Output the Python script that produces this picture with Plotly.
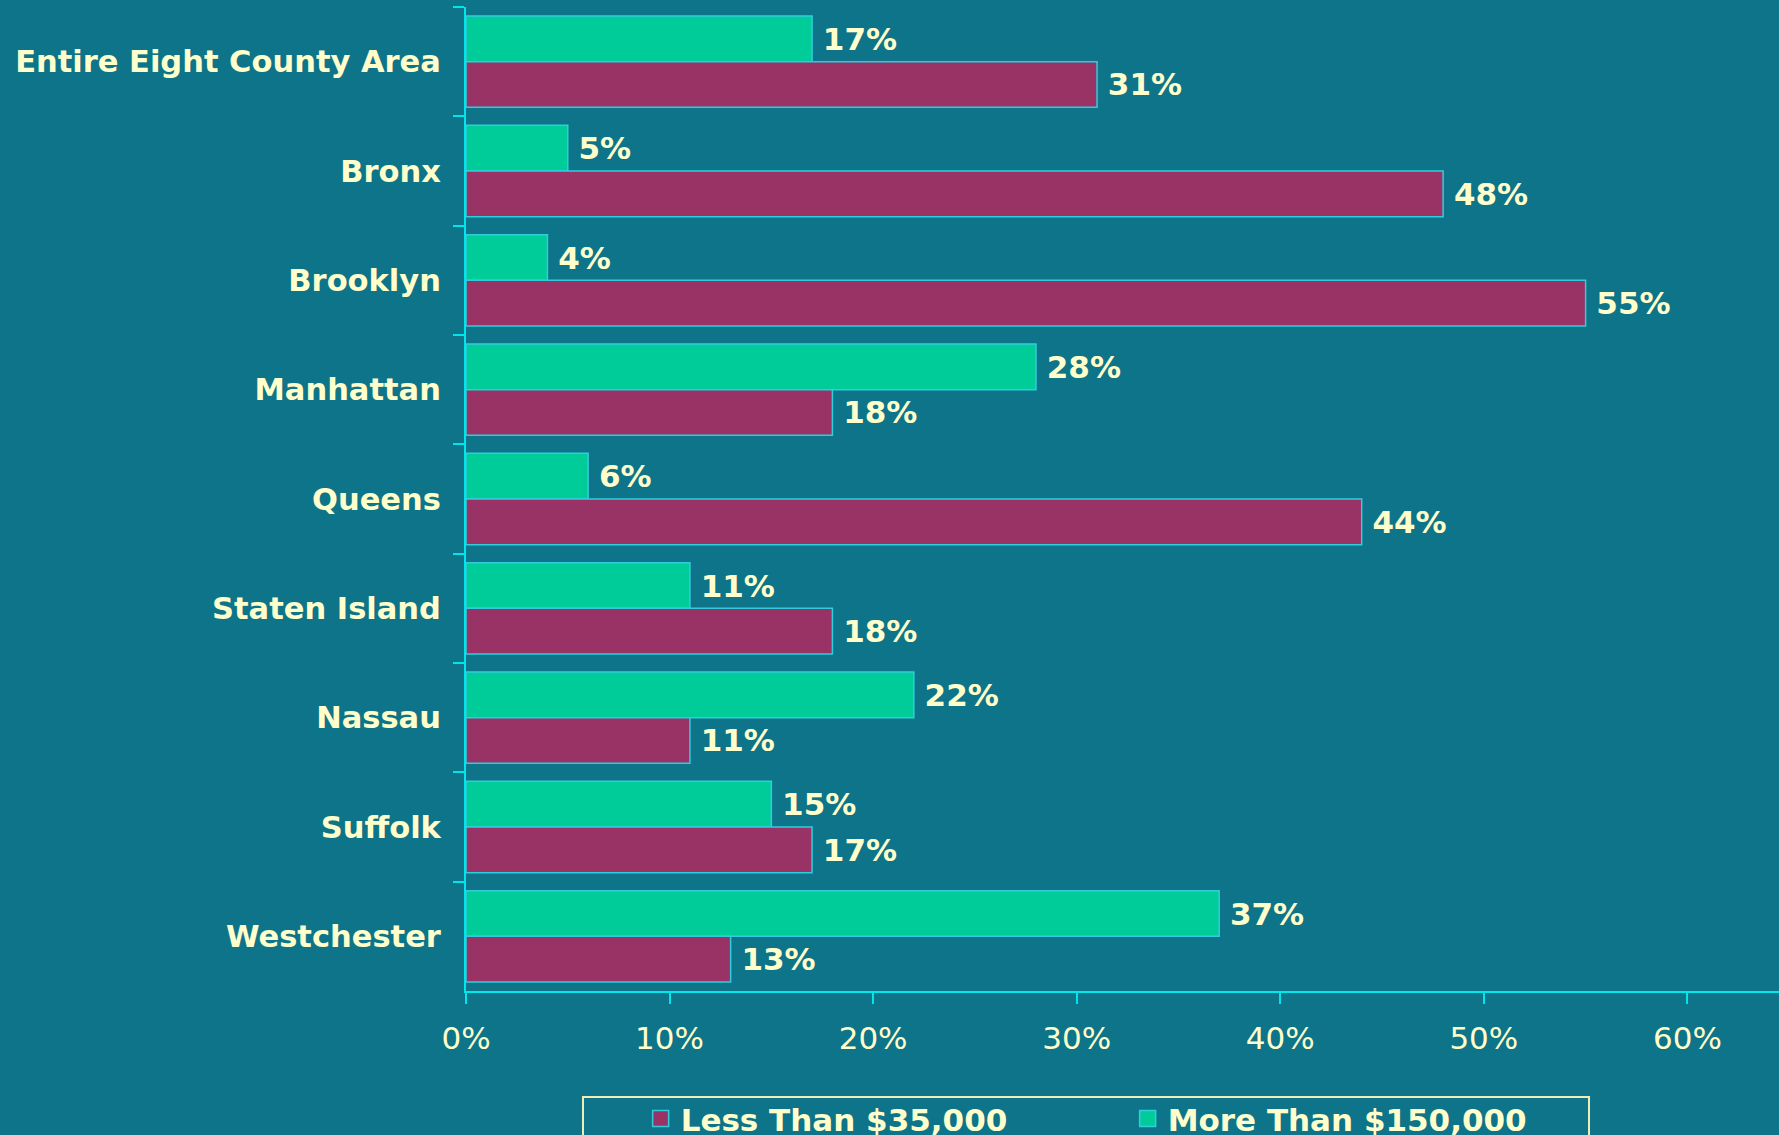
import plotly.graph_objects as go

categories = ["Entire Eight County Area", "Bronx", "Brooklyn", "Manhattan", "Queens",
              "Staten Island", "Nassau", "Suffolk", "Westchester"]
more_150k = [17, 5, 4, 28, 6, 11, 22, 15, 37]
less_35k = [31, 48, 55, 18, 44, 18, 11, 17, 13]
x_ticks = [0, 10, 20, 30, 40, 50, 60]

BG = "#0E7489"
GREEN = "#00CC99"
PURPLE = "#993366"
CYAN = "#00E5EE"
EDGE = "#33CCDD"
CREAM = "#FFFFCC"
FONT = "DejaVu Sans"
GAP = "\u2005"

fig = go.Figure()
fig.add_trace(go.Bar(
    y=categories, x=more_150k, orientation="h", name="More Than $150,000",
    marker=dict(color=GREEN, line=dict(color=EDGE, width=1.5)),
    texttemplate=GAP + "%{x}%", textposition="outside", constraintext="none", cliponaxis=False,
    textfont=dict(family=FONT, size=31, color=CREAM, weight="bold"),
    showlegend=False,
))
fig.add_trace(go.Bar(
    y=categories, x=less_35k, orientation="h", name="Less Than $35,000",
    marker=dict(color=PURPLE, line=dict(color=EDGE, width=1.5)),
    texttemplate=GAP + "%{x}%", textposition="outside", constraintext="none", cliponaxis=False,
    textfont=dict(family=FONT, size=31, color=CREAM, weight="bold"),
    showlegend=False,
))
# legend entries (square swatches)
fig.add_trace(go.Scatter(x=[None], y=[None], mode="markers", name="Less Than $35,000",
                         marker=dict(symbol="square", size=16, color=PURPLE, line=dict(color=EDGE, width=1.5))))
fig.add_trace(go.Scatter(x=[None], y=[None], mode="markers", name="More Than $150,000",
                         marker=dict(symbol="square", size=16, color=GREEN, line=dict(color=EDGE, width=1.5))))

fig.update_layout(
    width=1779, height=1135,
    paper_bgcolor=BG, plot_bgcolor=BG,
    margin=dict(l=466, r=0, t=7, b=144, autoexpand=False),
    barmode="group", bargap=0.165, bargroupgap=0,
    font=dict(family=FONT, color=CREAM, size=30),
    showlegend=True,
    legend=dict(orientation="h", x=0.133, xanchor="left", y=-0.1026, yanchor="top",
                entrywidth=442, bgcolor="rgba(0,0,0,0)", borderwidth=0,
                font=dict(family=FONT, size=31, color=CREAM, weight="bold"),
                itemsizing="trace"),
    shapes=[dict(type="rect", xref="paper", yref="paper",
                 x0=0.0891, x1=0.8553, y0=-0.1077, y1=-0.17,
                 line=dict(color="#EEEEBB", width=2), fillcolor="rgba(0,0,0,0)")],
)
fig.update_yaxes(
    autorange="reversed", tickson="boundaries", ticks="outside", ticklen=11,
    tickcolor=CYAN, tickwidth=2, showline=True, linecolor=CYAN, linewidth=2,
    showgrid=False, zeroline=False, ticklabelstandoff=17, automargin=False,
    tickfont=dict(family=FONT, size=30.5, color=CREAM, weight="bold"),
)
fig.update_xaxes(
    range=[0, 64.5], tickvals=x_ticks, ticktext=[f"{v}%" for v in x_ticks],
    ticks="outside", ticklen=11, tickcolor=CYAN, tickwidth=2,
    showline=True, linecolor=CYAN, linewidth=2, showgrid=False, zeroline=False,
    ticklabelstandoff=8, automargin=False, tickfont=dict(family=FONT, size=31, color=CREAM),
)

fig.write_html("out.html", config={"displayModeBar": False},
               post_script="document.body.style.margin='0';document.body.style.background='%s';" % BG)
